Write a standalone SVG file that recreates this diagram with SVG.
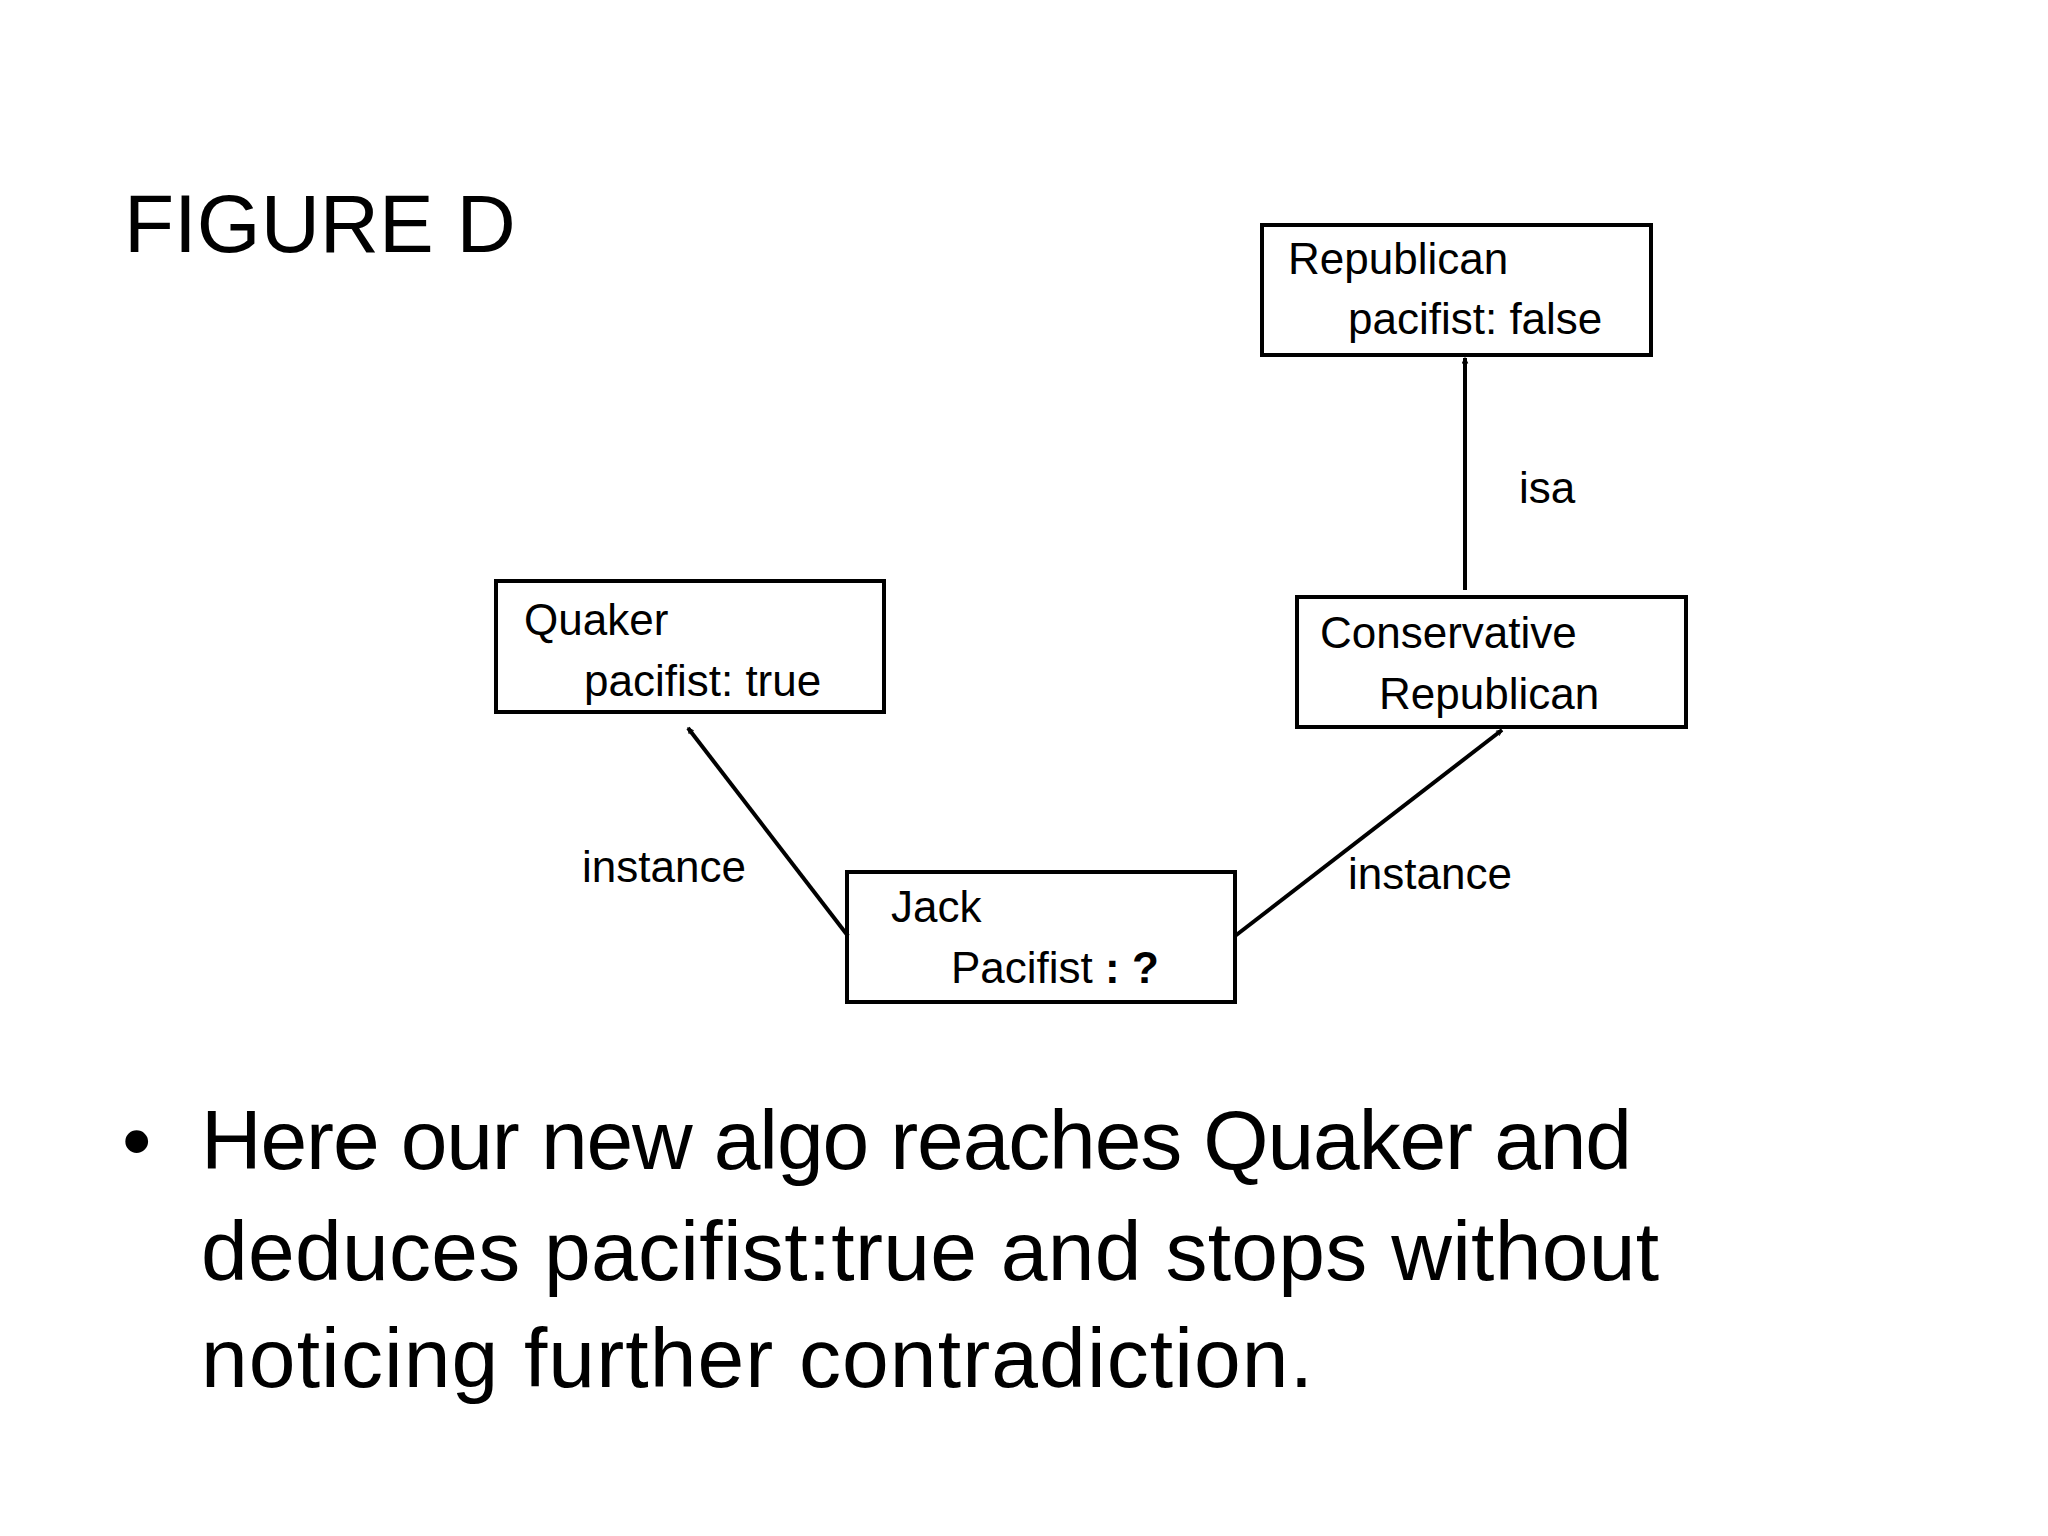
<svg xmlns="http://www.w3.org/2000/svg" width="2048" height="1536" viewBox="0 0 2048 1536">
<style>
text{font-family:"Liberation Sans",Arial,sans-serif;fill:#000}
.n{font-size:44px}
.box{fill:#fff;stroke:#000;stroke-width:4}
.c{stroke:#000;stroke-width:4;fill:none;marker-end:url(#a)}
.b{font-size:84px}
</style>
<defs><marker id="a" viewBox="0 0 20 20" refX="18" refY="10" markerWidth="7" markerHeight="7" markerUnits="userSpaceOnUse" orient="auto"><path d="M2,2 L18,10 L2,18" fill="none" stroke="#000" stroke-width="3"/></marker></defs>
<rect width="2048" height="1536" fill="#fff"/>
<text x="124" y="252" font-size="82">FIGURE D</text>
<g id="republican"><rect class="box" x="1262" y="225" width="389" height="130"/><text class="n" x="1288" y="274">Republican</text><text class="n" x="1348" y="334">pacifist: false</text></g>
<g id="quaker"><rect class="box" x="496" y="581" width="388" height="131"/><text class="n" x="524" y="635">Quaker</text><text class="n" x="584" y="696">pacifist: true</text></g>
<g id="conservative"><rect class="box" x="1297" y="597" width="389" height="130"/><text class="n" x="1320" y="648">Conservative</text><text class="n" x="1379" y="709">Republican</text></g>
<g id="jack"><rect class="box" x="847" y="872" width="388" height="130"/><text class="n" x="891" y="922">Jack</text><text class="n" x="951" y="983">Pacifist <tspan font-weight="bold">:  ?</tspan></text></g>
<g id="connectors">
<line class="c" x1="848" y1="936" x2="688" y2="728"/>
<line class="c" x1="1235" y1="936" x2="1502" y2="730"/>
<line class="c" x1="1465" y1="590" x2="1465" y2="358"/>
<text class="n" x="582" y="882">instance</text>
<text class="n" x="1348" y="889">instance</text>
<text class="n" x="1519" y="503">isa</text>
</g>
<text class="b" x="122" y="1169">•</text>
<text class="b" x="201" y="1169" textLength="1431">Here our new algo reaches Quaker and</text>
<text class="b" x="201" y="1280" textLength="1458">deduces pacifist:true and stops without</text>
<text class="b" x="201" y="1387" textLength="1112">noticing further contradiction.</text>
</svg>
